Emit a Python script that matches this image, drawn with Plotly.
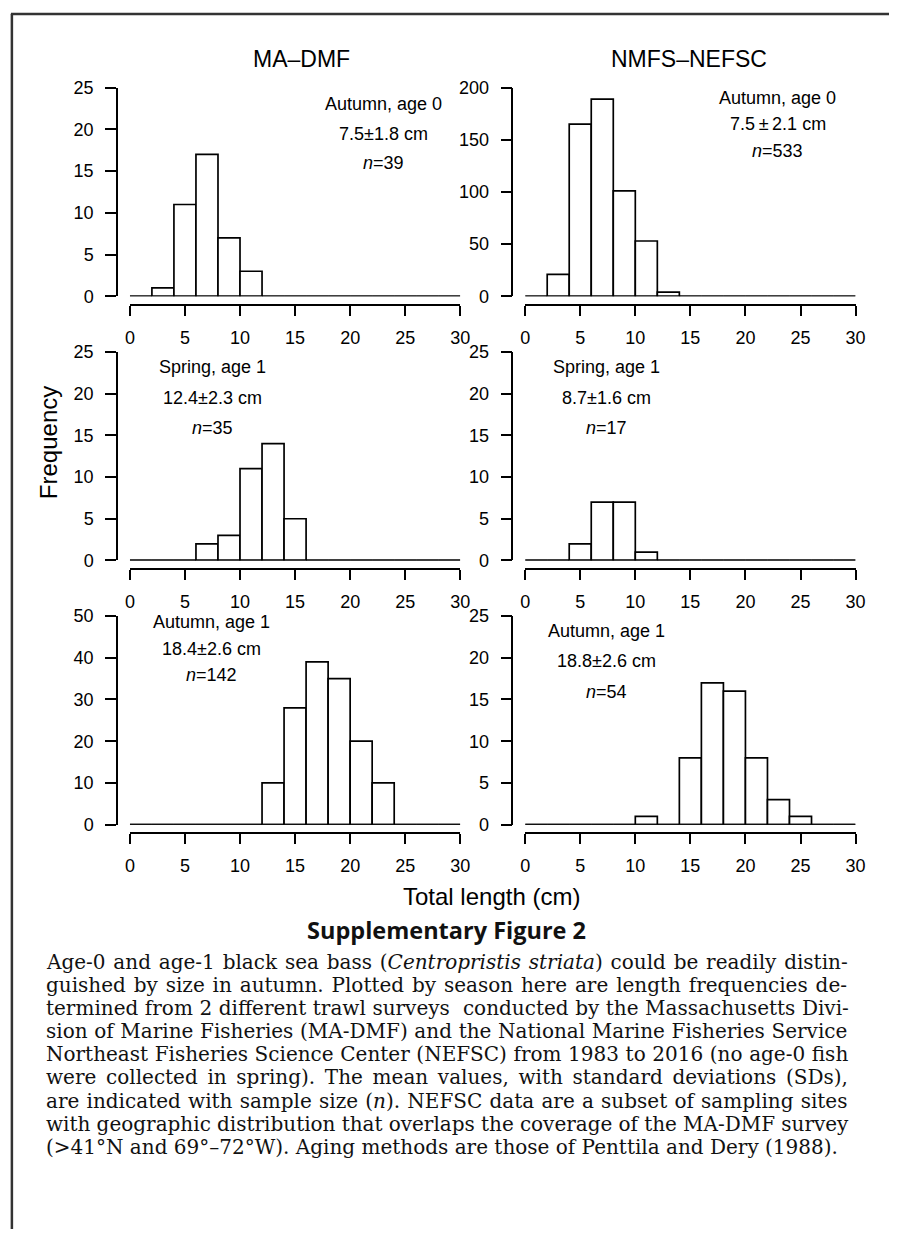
import plotly.graph_objects as go

W, H = 899, 1239

# ---- data: counts per 2-cm length bin (0-2, 2-4, ..., 28-30) ----
bin_edges = list(range(0, 32, 2))
madmf_autumn0 = [0, 1, 11, 17, 7, 3, 0, 0, 0, 0, 0, 0, 0, 0, 0]
nefsc_autumn0 = [0, 21, 165, 189, 101, 53, 4, 0, 0, 0, 0, 0, 0, 0, 0]
madmf_spring1 = [0, 0, 0, 2, 3, 11, 14, 5, 0, 0, 0, 0, 0, 0, 0]
nefsc_spring1 = [0, 0, 2, 7, 7, 1, 0, 0, 0, 0, 0, 0, 0, 0, 0]
madmf_autumn1 = [0, 0, 0, 0, 0, 0, 10, 28, 39, 35, 20, 10, 0, 0, 0]
nefsc_autumn1 = [0, 0, 0, 0, 0, 1, 0, 8, 17, 16, 8, 3, 1, 0, 0]

column_titles = ["MA\u2013DMF", "NMFS\u2013NEFSC"]
panel_labels = [
    ["Autumn, age 0", "Autumn, age 0"],
    ["Spring, age 1", "Spring, age 1"],
    ["Autumn, age 1", "Autumn, age 1"],
]
panel_means = [
    ["7.5\u00b11.8 cm", "7.5\u2009\u00b1\u20092.1 cm"],
    ["12.4\u00b12.3 cm", "8.7\u00b11.6 cm"],
    ["18.4\u00b12.6 cm", "18.8\u00b12.6 cm"],
]
panel_n = [["39", "533"], ["35", "17"], ["142", "54"]]
y_max = [[25, 200], [25, 25], [50, 25]]
y_step = [[5, 50], [5, 5], [10, 5]]
x_ticks = [0, 5, 10, 15, 20, 25, 30]

series = [
    [madmf_autumn0, nefsc_autumn0],
    [madmf_spring1, nefsc_spring1],
    [madmf_autumn1, nefsc_autumn1],
]

caption_lines = [
    "Age-0 and age-1 black sea bass (<i>Centropristis striata</i>) could be readily distin-",
    "guished by size in autumn. Plotted by season here are length frequencies de-",
    "termined from 2 different trawl surveys\u00a0 conducted by the Massachusetts Divi-",
    "sion of Marine Fisheries (MA-DMF) and the National Marine Fisheries Service",
    "Northeast Fisheries Science Center (NEFSC) from 1983 to 2016 (no age-0 fish",
    "were collected in spring). The mean values, with standard deviations (SDs),",
    "are indicated with sample size (<i>n</i>). NEFSC data are a subset of sampling sites",
    "with geographic distribution that overlaps the coverage of the MA-DMF survey",
    "(>41\u00b0N and 69\u00b0\u201372\u00b0W). Aging methods are those of Penttila and Dery (1988).",
]
# extra inter-word spacing (px) used to justify each caption line
caption_word_spacing = [1.45, 1.5, 0.2, 0.3, 0.25, 3.3, 0.85, -0.2, 0]

# ---- layout geometry (pixels) ----
col_x0 = [127, 529]
col_x1 = [463, 865]
col_yline = [114, 516]
row_y0 = [291, 559.5, 828]
row_ytop = [79, 347.5, 616]
x_axis_offset = 9

SANS = "Liberation Sans, Arial, sans-serif"
SERIF = "DejaVu Serif, serif"
LW = 1.7


def px(x):
    return x / W


def py(y):
    return 1 - y / H


fig = go.Figure()
layout = {}
annotations = []

centers = [(bin_edges[i] + bin_edges[i + 1]) / 2 for i in range(len(bin_edges) - 1)]
widths = [bin_edges[i + 1] - bin_edges[i] for i in range(len(bin_edges) - 1)]

k = 0
for r in range(3):
    for c in range(2):
        k += 1
        xa = "x" if k == 1 else f"x{k}"
        ya = "y" if k == 1 else f"y{k}"
        counts = series[r][c]
        fig.add_trace(go.Bar(
            x=centers, y=counts, width=widths,
            marker=dict(color="white", line=dict(color="black", width=LW)),
            xaxis=xa, yaxis=ya, showlegend=False, hoverinfo="x+y",
        ))
        fig.add_trace(go.Scatter(
            x=[bin_edges[0], bin_edges[-1]], y=[0, 0], mode="lines",
            line=dict(color="black", width=LW), cliponaxis=False,
            xaxis=xa, yaxis=ya, showlegend=False, hoverinfo="skip",
        ))
        xkey = "xaxis" if k == 1 else f"xaxis{k}"
        ykey = "yaxis" if k == 1 else f"yaxis{k}"
        layout[xkey] = dict(
            domain=[px(col_x0[c]), px(col_x1[c])], range=[0, 30],
            anchor="free", position=py(row_y0[r] + x_axis_offset),
            showline=True, linecolor="black", linewidth=LW,
            ticks="outside", ticklen=10, tickwidth=LW, tickcolor="black",
            tickvals=x_ticks, ticktext=[str(v) for v in x_ticks],
            tickfont=dict(family=SANS, size=18, color="black"),
            ticklabelstandoff=6,
            showgrid=False, zeroline=False, fixedrange=True,
        )
        yt = list(range(0, y_max[r][c] + 1, y_step[r][c]))
        layout[ykey] = dict(
            domain=[py(row_y0[r]), py(row_ytop[r])], range=[0, y_max[r][c]],
            anchor="free", position=px(col_yline[c]),
            showline=True, linecolor="black", linewidth=LW,
            ticks="outside", ticklen=11, tickwidth=LW, tickcolor="black",
            tickvals=yt, ticktext=[str(v) for v in yt],
            tickfont=dict(family=SANS, size=18, color="black"),
            ticklabelstandoff=8,
            showgrid=False, zeroline=False, fixedrange=True,
        )

# panel annotation positions (pixels, centre of each text line)
label_pos = [
    [(385, 96, 30), (786, 89, 27)],
    [(211, 363, 31), (612, 363, 31)],
    [(210, 622, 27), (612, 631, 31)],
]
for r in range(3):
    for c in range(2):
        cx, cy, dy = label_pos[r][c]
        texts = [panel_labels[r][c], panel_means[r][c], "<i>n</i>=" + panel_n[r][c]]
        for i, t in enumerate(texts):
            annotations.append(dict(
                x=px(cx), y=py(cy + i * dy), xref="paper", yref="paper",
                text=t, showarrow=False, xanchor="center", yanchor="middle",
                font=dict(family=SANS, size=18, color="black"),
            ))

# column titles
title_x = [302, 696]
for c, t in enumerate(column_titles):
    annotations.append(dict(
        x=px(title_x[c]), y=py(50), xref="paper", yref="paper",
        text=t, showarrow=False, xanchor="center", yanchor="middle",
        font=dict(family=SANS, size=23, color="black"),
    ))

annotations.append(dict(
    x=px(45), y=py(440), xref="paper", yref="paper", text="Frequency",
    textangle=-90, showarrow=False, xanchor="center", yanchor="middle",
    font=dict(family=SANS, size=24, color="black"),
))
annotations.append(dict(
    x=px(495), y=py(901), xref="paper", yref="paper", text="Total length (cm)",
    showarrow=False, xanchor="center", yanchor="middle",
    font=dict(family=SANS, size=24, color="black"),
))
annotations.append(dict(
    x=px(449), y=py(935), xref="paper", yref="paper", text="<b>Supplementary Figure 2</b>",
    showarrow=False, xanchor="center", yanchor="middle",
    font=dict(family="Open Sans, sans-serif", size=23.5, color="#111"),
))
for i, line in enumerate(caption_lines):
    ws = caption_word_spacing[i]
    txt = f'<span style="word-spacing:{ws}px">{line}</span>' if ws else line
    annotations.append(dict(
        x=px(40), y=py(968 + i * 23.4), xref="paper", yref="paper", text=txt,
        showarrow=False, xanchor="left", yanchor="middle",
        font=dict(family=SERIF, size=20, color="#111"),
    ))

shapes = [
    dict(type="line", xref="paper", yref="paper", x0=px(6), x1=1, y0=py(4), y1=py(4),
         line=dict(color="#333", width=2.5)),
    dict(type="line", xref="paper", yref="paper", x0=px(7), x1=px(7), y0=py(4), y1=0,
         line=dict(color="#333", width=2.5)),
]

fig.update_layout(
    width=W, height=H, margin=dict(l=0, r=0, t=0, b=0),
    paper_bgcolor="white", plot_bgcolor="white",
    annotations=annotations, shapes=shapes, barmode="overlay",
    **layout,
)

post = (
    "document.documentElement.style.margin='0px';"
    "document.body.style.margin='0px';document.body.style.padding='0px';"
    "document.body.style.overflow='hidden';"
)

fig.write_html("out.html", config={"displayModeBar": False}, post_script=post)
